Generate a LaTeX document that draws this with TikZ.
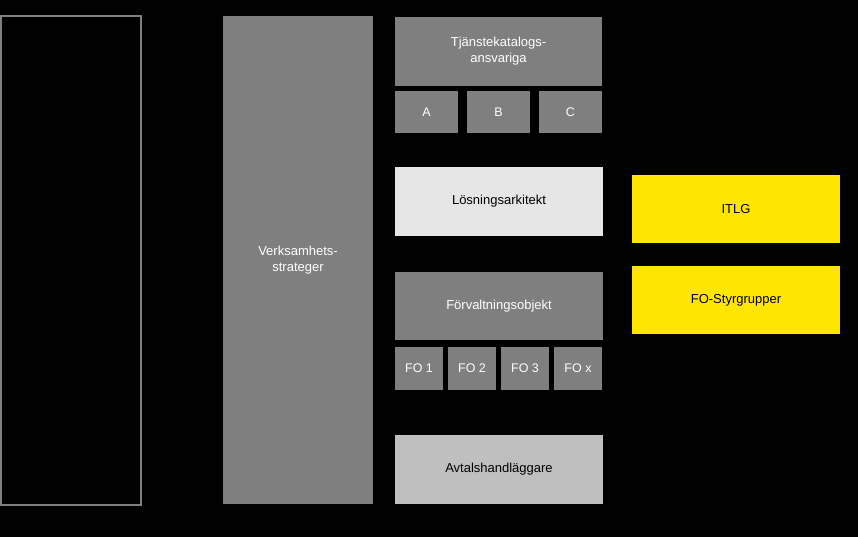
\documentclass[tikz,border=0pt]{standalone}
\usepackage{fontspec}
\setmainfont{Liberation Sans}
\definecolor{dg}{HTML}{7F7F7F}
\definecolor{lg}{HTML}{E6E6E6}
\definecolor{mg}{HTML}{BFBFBF}
\definecolor{yl}{HTML}{FFE600}
\begin{document}
\begin{tikzpicture}[x=1pt,y=-1pt,
  bx/.style={draw=none,inner sep=0pt,align=center,font=\fontsize{13}{16}\selectfont},
  gbox/.style={bx,fill=dg,text=white},
  sbox/.style={bx,fill=dg,text=white,font=\fontsize{12.5}{15}\selectfont}]
\fill[black] (0,0) rectangle (858,537);
\useasboundingbox (0,0) rectangle (858,537);
\draw[dg,line width=2pt] (1,16) rectangle (141,505);
\node[gbox,minimum width=150pt,minimum height=487pt] (vs) at (298,260) {};
\node[bx,text=white] at (298,260) {Verksamhets-\\strateger};
\node[gbox,minimum width=207pt,minimum height=69pt] (tk) at (498.5,51.5) {Tjänstekatalogs-\\ansvariga};
\node[sbox,minimum width=63pt,minimum height=42pt] (a) at (426.5,112) {A};
\node[sbox,minimum width=63pt,minimum height=42pt] (b) at (498.5,112) {B};
\node[sbox,minimum width=63pt,minimum height=42pt] (c) at (570.5,112) {C};
\node[bx,fill=lg,text=black,minimum width=208pt,minimum height=69pt] (la) at (499,201.5) {Lösningsarkitekt};
\node[gbox,minimum width=208pt,minimum height=68pt] (fo) at (499,306) {Förvaltningsobjekt};
\node[sbox,minimum width=48pt,minimum height=43pt] (f1) at (419,368.5) {FO 1};
\node[sbox,minimum width=48pt,minimum height=43pt] (f2) at (472,368.5) {FO 2};
\node[sbox,minimum width=48pt,minimum height=43pt] (f3) at (525,368.5) {FO 3};
\node[sbox,minimum width=48pt,minimum height=43pt] (fx) at (578,368.5) {FO x};
\node[bx,fill=mg,text=black,minimum width=208pt,minimum height=69pt] (av) at (499,469.5) {Avtalshandläggare};
\node[bx,fill=yl,text=black,minimum width=208pt,minimum height=68pt] (it) at (736,209) {ITLG};
\node[bx,fill=yl,text=black,minimum width=208pt,minimum height=68pt] (fs) at (736,300) {FO-Styrgrupper};
\end{tikzpicture}
\end{document}
